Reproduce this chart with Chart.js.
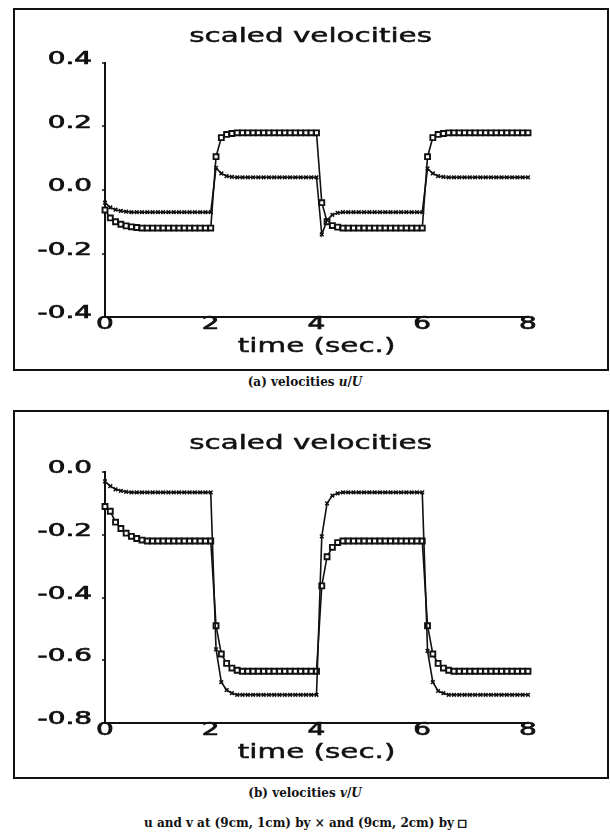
<!DOCTYPE html>
<html>
<head>
<meta charset="utf-8">
<script src="https://cdn.jsdelivr.net/npm/chart.js@4.4.1/dist/chart.umd.min.js"></script>
<style>
  body { margin: 0; background: #fff; width: 610px; height: 834px; position: relative; overflow: hidden; }
  .box { position: absolute; left: 13px; width: 592px; border: 2px solid #111; }
  .box canvas { position: absolute; left: 0; top: 0; }
  .wide { position: absolute; left: 0; width: 592px; text-align: center; font: 20px "DejaVu Sans"; line-height: 20px; color: #111; }
  .wide span { display: inline-block; transform: scaleX(1.47); -webkit-text-stroke: 0.5px #111; }
  .cap { position: absolute; left: 0; width: 610px; text-align: center; font: bold 12px "DejaVu Serif"; line-height: 14px; color: #111; }
  .cap i { font-style: italic; }
  .cap .sq { font: 13px "DejaVu Sans Mono"; color: #111; -webkit-text-stroke: 0.6px #111; }
</style>
</head>
<body>
<div class="box" id="boxA" style="top:8px;height:359px;">
  <canvas id="grafica-u" width="592" height="359"></canvas>
  <div class="wide" style="top:15px;"><span>scaled velocities</span></div>
  <div class="wide" style="top:325px;left:6px;"><span>time (sec.)</span></div>
</div>
<div class="cap" style="top:375px;">(a) velocities <i>u</i>/<i>U</i></div>

<div class="box" id="boxB" style="top:410px;height:365px;">
  <canvas id="grafica-v" width="592" height="365"></canvas>
  <div class="wide" style="top:20px;"><span>scaled velocities</span></div>
  <div class="wide" style="top:329px;left:6px;"><span>time (sec.)</span></div>
</div>
<div class="cap" style="top:786px;">(b) velocities <i>v</i>/<i>U</i></div>
<div class="cap" style="top:815px;">u and v at (9cm, 1cm) by × and (9cm, 2cm) by <span class="sq">&#x25A1;</span></div>

<script>
// tiempos (s), paso de 0.1
const tiempos = [
  0.0, 0.1, 0.2, 0.3, 0.4, 0.5, 0.6, 0.7, 0.8, 0.9,
  1.0, 1.1, 1.2, 1.3, 1.4, 1.5, 1.6, 1.7, 1.8, 1.9,
  2.0, 2.1, 2.2, 2.3, 2.4, 2.5, 2.6, 2.7, 2.8, 2.9,
  3.0, 3.1, 3.2, 3.3, 3.4, 3.5, 3.6, 3.7, 3.8, 3.9,
  4.0, 4.1, 4.2, 4.3, 4.4, 4.5, 4.6, 4.7, 4.8, 4.9,
  5.0, 5.1, 5.2, 5.3, 5.4, 5.5, 5.6, 5.7, 5.8, 5.9,
  6.0, 6.1, 6.2, 6.3, 6.4, 6.5, 6.6, 6.7, 6.8, 6.9,
  7.0, 7.1, 7.2, 7.3, 7.4, 7.5, 7.6, 7.7, 7.8, 7.9,
  8.0
];

// u/U en (9cm, 1cm) -> x
const u1cm = [
  -0.040, -0.055, -0.062, -0.066, -0.068, -0.070, -0.070, -0.070, -0.070, -0.070,
  -0.070, -0.070, -0.070, -0.070, -0.070, -0.070, -0.070, -0.070, -0.070, -0.070,
  -0.070, 0.070, 0.052, 0.044, 0.041, 0.040, 0.040, 0.040, 0.040, 0.040,
  0.040, 0.040, 0.040, 0.040, 0.040, 0.040, 0.040, 0.040, 0.040, 0.040,
  0.040, -0.140, -0.095, -0.078, -0.072, -0.070, -0.070, -0.070, -0.070, -0.070,
  -0.070, -0.070, -0.070, -0.070, -0.070, -0.070, -0.070, -0.070, -0.070, -0.070,
  -0.070, 0.068, 0.052, 0.044, 0.041, 0.040, 0.040, 0.040, 0.040, 0.040,
  0.040, 0.040, 0.040, 0.040, 0.040, 0.040, 0.040, 0.040, 0.040, 0.040,
  0.040
];

// u/U en (9cm, 2cm) -> cuadrado
const u2cm = [
  -0.063, -0.088, -0.100, -0.108, -0.113, -0.116, -0.118, -0.120, -0.120, -0.120,
  -0.120, -0.120, -0.120, -0.120, -0.120, -0.120, -0.120, -0.120, -0.120, -0.120,
  -0.120, 0.105, 0.165, 0.175, 0.178, 0.180, 0.180, 0.180, 0.180, 0.180,
  0.180, 0.180, 0.180, 0.180, 0.180, 0.180, 0.180, 0.180, 0.180, 0.180,
  0.180, -0.040, -0.100, -0.112, -0.117, -0.120, -0.120, -0.120, -0.120, -0.120,
  -0.120, -0.120, -0.120, -0.120, -0.120, -0.120, -0.120, -0.120, -0.120, -0.120,
  -0.120, 0.105, 0.165, 0.175, 0.178, 0.180, 0.180, 0.180, 0.180, 0.180,
  0.180, 0.180, 0.180, 0.180, 0.180, 0.180, 0.180, 0.180, 0.180, 0.180,
  0.180
];

// v/U en (9cm, 1cm) -> x
const v1cm = [
  -0.030, -0.045, -0.055, -0.060, -0.063, -0.065, -0.065, -0.065, -0.065, -0.065,
  -0.065, -0.065, -0.065, -0.065, -0.065, -0.065, -0.065, -0.065, -0.065, -0.065,
  -0.065, -0.565, -0.670, -0.695, -0.705, -0.710, -0.710, -0.710, -0.710, -0.710,
  -0.710, -0.710, -0.710, -0.710, -0.710, -0.710, -0.710, -0.710, -0.710, -0.710,
  -0.710, -0.205, -0.100, -0.075, -0.068, -0.065, -0.065, -0.065, -0.065, -0.065,
  -0.065, -0.065, -0.065, -0.065, -0.065, -0.065, -0.065, -0.065, -0.065, -0.065,
  -0.065, -0.570, -0.670, -0.698, -0.705, -0.710, -0.710, -0.710, -0.710, -0.710,
  -0.710, -0.710, -0.710, -0.710, -0.710, -0.710, -0.710, -0.710, -0.710, -0.710,
  -0.710
];

// v/U en (9cm, 2cm) -> cuadrado
const v2cm = [
  -0.110, -0.125, -0.160, -0.180, -0.195, -0.205, -0.212, -0.217, -0.220, -0.220,
  -0.220, -0.220, -0.220, -0.220, -0.220, -0.220, -0.220, -0.220, -0.220, -0.220,
  -0.220, -0.490, -0.580, -0.610, -0.625, -0.632, -0.635, -0.635, -0.635, -0.635,
  -0.635, -0.635, -0.635, -0.635, -0.635, -0.635, -0.635, -0.635, -0.635, -0.635,
  -0.635, -0.363, -0.270, -0.240, -0.225, -0.220, -0.220, -0.220, -0.220, -0.220,
  -0.220, -0.220, -0.220, -0.220, -0.220, -0.220, -0.220, -0.220, -0.220, -0.220,
  -0.220, -0.490, -0.580, -0.610, -0.625, -0.632, -0.635, -0.635, -0.635, -0.635,
  -0.635, -0.635, -0.635, -0.635, -0.635, -0.635, -0.635, -0.635, -0.635, -0.635,
  -0.635
];

const ticksX = [0, 2, 4, 6, 8];

function etiqueta(v) {
  if (Math.abs(v) < 1e-9) return "0.0";
  return v.toFixed(1);
}

// dibuja las etiquetas de los ejes ensanchadas, como en el original
const etiquetasAnchas = {
  id: "etiquetasAnchas",
  afterDraw(chart) {
    const { ctx, scales: { x, y } } = chart;
    const escribir = (txt, px, py, align) => {
      ctx.save();
      ctx.translate(px, py);
      ctx.scale(1.55, 1);
      ctx.textAlign = align;
      ctx.strokeText(txt, 0, 0);
      ctx.fillText(txt, 0, 0);
      ctx.restore();
    };
    ctx.save();
    ctx.fillStyle = "#111";
    ctx.strokeStyle = "#111";
    ctx.lineWidth = 0.7;
    ctx.font = '18px "DejaVu Sans"';
    ctx.textBaseline = "alphabetic";
    y.ticks.forEach(t => escribir(etiqueta(t.value), y.right - 13, y.getPixelForValue(t.value) + 1, "right"));
    x.ticks.forEach(t => escribir(String(t.value), x.getPixelForValue(t.value), x.top + 12, "center"));
    // marcas pequeñas del eje y
    ctx.lineWidth = 1.5;
    y.ticks.forEach(t => {
      const py = Math.round(y.getPixelForValue(t.value));
      ctx.beginPath();
      ctx.moveTo(y.right - 3, py);
      ctx.lineTo(y.right + 1, py);
      ctx.stroke();
    });
    ctx.restore();
  }
};

function serie(datos, estilo) {
  const cuadrado = estilo === "rect";
  return {
    data: datos,
    borderColor: "#111",
    borderWidth: 1.6,
    pointStyle: estilo,
    pointRadius: cuadrado ? 3.5 : 2.6,
    pointBorderWidth: cuadrado ? 1.9 : 1.5,
    pointBorderColor: "#111",
    pointBackgroundColor: "#fff",
    tension: 0,
    clip: false
  };
}

function crearGrafica(id, d1, d2, yMin, yMax, padding) {
  return new Chart(document.getElementById(id).getContext("2d"), {
    type: "line",
    data: {
      labels: tiempos,
      datasets: [serie(d1, "crossRot"), serie(d2, "rect")]
    },
    options: {
      responsive: false,
      animation: false,
      devicePixelRatio: 1,
      layout: { padding: padding },
      plugins: { legend: { display: false }, title: { display: false }, tooltip: { enabled: false } },
      scales: {
        x: {
          type: "linear",
          min: 0, max: 8,
          afterBuildTicks: s => { s.ticks = ticksX.map(v => ({ value: v })); },
          ticks: { display: false },
          grid: { display: false },
          border: { display: true, color: "#111", width: 2 },
          afterFit: s => { s.height = 0; }
        },
        y: {
          min: yMin, max: yMax,
          ticks: { display: false, stepSize: 0.2 },
          grid: { display: false },
          border: { display: true, color: "#111", width: 2 },
          afterFit: s => { s.width = 0; }
        }
      }
    },
    plugins: [etiquetasAnchas]
  });
}

crearGrafica("grafica-u", u1cm, u2cm, -0.4, 0.4, { left: 90, right: 79, top: 53, bottom: 52 });
crearGrafica("grafica-v", v1cm, v2cm, -0.8, 0.0, { left: 90, right: 79, top: 60, bottom: 54 });
</script>
</body>
</html>
